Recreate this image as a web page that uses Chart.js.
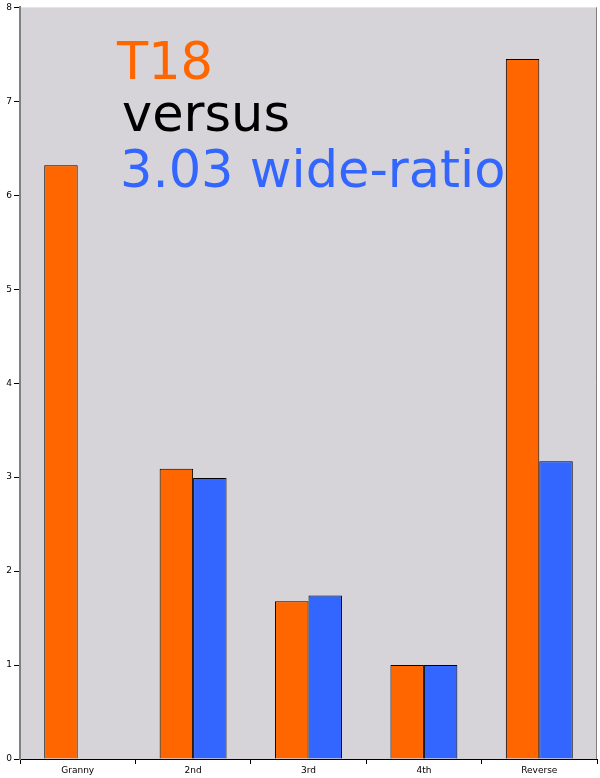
<!DOCTYPE html>
<html><head><meta charset="utf-8">
<script src="https://cdn.jsdelivr.net/npm/chart.js@4"></script>
<style>html,body{margin:0;padding:0;background:#fff}#wrap{width:600px;height:778px;position:relative}</style>
</head><body><div id="wrap"><canvas id="c" width="600" height="778"></canvas></div>
<script>
const categories = ["Granny", "2nd", "3rd", "4th", "Reverse"];
const t18Values = [6.32, 3.09, 1.68, 1.0, 7.45];
const wideRatioValues = [null, 2.99, 1.74, 1.0, 3.17];
const yTicks = [0, 1, 2, 3, 4, 5, 6, 7, 8];
const titleLines = [
  {text: "T18", color: "#ff6600"},
  {text: "versus", color: "#000000"},
  {text: "3.03 wide-ratio", color: "#3366ff"}
];

const bgPlugin = {
  id: 'bg',
  beforeDraw(chart) {
    const {ctx, chartArea: a} = chart;
    ctx.save();
    ctx.fillStyle = '#d6d4d8';
    ctx.fillRect(a.left, a.top, a.right - a.left, a.bottom - a.top);
    ctx.restore();
  },
  beforeDatasetsDraw(chart) {
    const {ctx, chartArea: a} = chart;
    ctx.save();
    ctx.font = '51px "DejaVu Sans"';
    ctx.textBaseline = 'alphabetic';
    const xs = [117, 122, 120];
    const offs = [72, 124, 180];
    titleLines.forEach((l, i) => {
      ctx.fillStyle = l.color;
      ctx.fillText(l.text, xs[i], a.top + offs[i]);
    });
    ctx.restore();
  },
  afterDraw(chart) {
    const {ctx, chartArea: a} = chart;
    ctx.save();
    ctx.strokeStyle = '#808080';
    ctx.lineWidth = 1;
    ctx.beginPath();
    ctx.moveTo(a.right - 0.5, a.top);
    ctx.lineTo(a.right - 0.5, a.bottom);
    ctx.stroke();
    ctx.restore();
  }
};

new Chart(document.getElementById('c'), {
  type: 'bar',
  data: {
    labels: categories,
    datasets: [
      {label: 'T18', data: t18Values, backgroundColor: '#ff6600', borderColor: '#000', borderWidth: 1, borderSkipped: 'bottom'},
      {label: '3.03 wide-ratio', data: wideRatioValues, backgroundColor: '#3366ff', borderColor: '#000', borderWidth: 1, borderSkipped: 'bottom'}
    ]
  },
  options: {
    responsive: false,
    animation: false,
    devicePixelRatio: 1,
    layout: {padding: {top: 6, right: 3, left: 0, bottom: 0}},
    plugins: {legend: {display: false}, tooltip: {enabled: false}, title: {display: false}},
    datasets: {bar: {barPercentage: 1.0, categoryPercentage: 0.58}},
    scales: {
      x: {
        grid: {offset: true, drawOnChartArea: false, tickLength: 5, color: '#000', tickColor: '#000'},
        border: {color: '#000', width: 1},
        ticks: {font: {family: 'DejaVu Sans', size: 9}, color: '#000', padding: 1, maxRotation: 0},
        afterFit(s) { s.height = 19; }
      },
      y: {
        min: 0, max: 8,
        afterBuildTicks(s) { s.ticks = yTicks.map(v => ({value: v})); },
        grid: {drawOnChartArea: false, tickLength: 6, tickColor: '#000'},
        border: {color: '#808080', width: 2},
        ticks: {font: {family: 'DejaVu Sans', size: 9}, color: '#000', padding: 2},
        afterFit(s) { s.width = 20; }
      }
    }
  },
  plugins: [bgPlugin]
});
</script></body></html>
